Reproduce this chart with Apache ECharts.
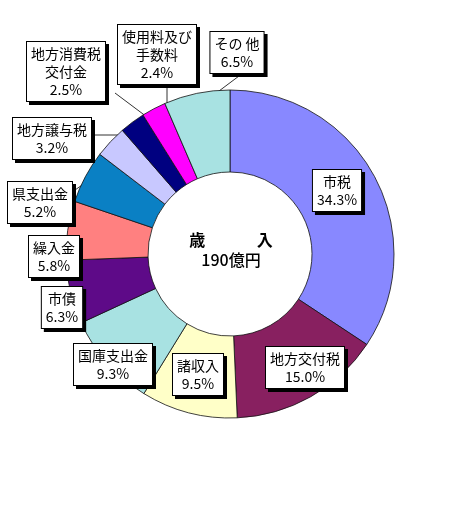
<!DOCTYPE html>
<html>
<head>
<meta charset="utf-8">
<script src="https://cdn.jsdelivr.net/npm/echarts@6/dist/echarts.min.js"></script>
<style>
  html, body { margin: 0; padding: 0; background: #fff; }
  #chart { width: 468px; height: 514px; }
</style>
</head>
<body>
<div id="chart"></div>
<script>
const categories = ["市税", "地方交付税", "諸収入", "国庫支出金", "市債", "繰入金", "県支出金", "地方譲与税", "地方消費税\n交付金", "使用料及び\n手数料", "その 他"];
const shares = [34.3, 15.0, 9.5, 9.3, 6.3, 5.8, 5.2, 3.2, 2.5, 2.4, 6.5];
const sliceColors = ["#8888FF", "#882060", "#FFFFC8", "#A8E2E2", "#5E0A88", "#FF8080", "#0A80C4", "#C8C8FF", "#000080", "#FF00FF", "#A8E2E2"];

// label box placement: [center x, top y]
const labelSpots = [[337, 170], [305, 347], [198, 354], [113, 344], [62, 287], [54, 236], [40, 182], [52, 118], [66, 42], [157, 25], [237, 32]];
// leader lines, null when the box sits on its slice
const leaders = [null, null, null, null, null,
  [[78, 230], [102, 217]],
  [[75, 190], [115, 162]],
  [[93, 135], [123, 135]],
  [[115, 93], [147, 117]],
  [[167, 85], [167, 103]],
  [[239, 76], [207, 100]]];

const chart = echarts.init(document.getElementById("chart"), null, { renderer: "canvas" });
const font = "'Noto Sans CJK JP', 'Noto Sans', sans-serif";

chart.setOption({
  animation: false,
  color: sliceColors,
  graphic: [
    {
      type: "text",
      x: 231,
      y: 240,
      style: { text: "歳　　　 入", fill: "#000", font: `bold 16px ${font}`, align: "center", verticalAlign: "middle" },
    },
    {
      type: "text",
      x: 231,
      y: 260,
      style: { text: "190億円", fill: "#000", font: `500 16px ${font}`, align: "center", verticalAlign: "middle" },
    },
  ],
  series: [{
    type: "pie",
    center: [230, 254],
    radius: [82, 164],
    startAngle: 90,
    clockwise: true,
    avoidLabelOverlap: false,
    itemStyle: { borderColor: "#111", borderWidth: 0.8 },
    label: {
      show: true,
      position: "outside",
      formatter: (p) => `${p.name}\n${p.value.toFixed(1)}%`,
      color: "#000",
      fontFamily: font,
      fontSize: 14,
      lineHeight: 18,
      align: "center",
      backgroundColor: "#fff",
      borderColor: "#000",
      borderWidth: 1,
      padding: [3, 4, 2, 4],
      shadowColor: "#000",
      shadowOffsetX: 3,
      shadowOffsetY: 3,
      shadowBlur: 0,
    },
    labelLine: { show: true, lineStyle: { color: "#333", width: 1 } },
    labelLayout: (params) => {
      const spot = labelSpots[params.dataIndex];
      const out = { x: spot[0], y: spot[1], align: "center", verticalAlign: "top" };
      const line = leaders[params.dataIndex];
      if (line) out.labelLinePoints = [line[0], line[0], line[1]];
      return out;
    },
    data: categories.map((name, i) => ({
      name,
      value: shares[i],
      labelLine: { show: leaders[i] !== null },
    })),
  }],
});
</script>
</body>
</html>
